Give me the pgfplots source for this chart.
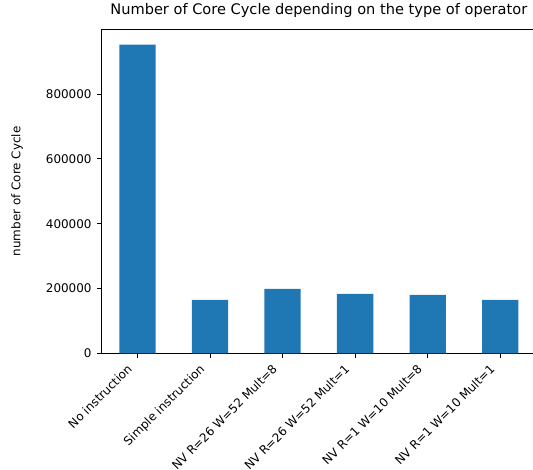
\documentclass[border=0pt]{standalone}
\usepackage{fontspec}
\setmainfont{DejaVu Sans}
\usepackage{pgfplots}
\pgfplotsset{compat=1.18}
\definecolor{mplblue}{HTML}{1F77B4}
\begin{document}
\begin{tikzpicture}
\begin{axis}[
  at={(0,0)}, anchor=south west,
  scale only axis, width=313.4pt, height=233.3pt,
  xmin=-0.5, xmax=5.5, ymin=0, ymax=999900,
  ybar, bar width=0.5,
  xtick={0,1,2,3,4,5},
  xticklabels={No instruction, Simple instruction, NV R=26 W=52 Mult=8, NV R=26 W=52 Mult=1, NV R=1 W=10 Mult=8, NV R=1 W=10 Mult=1},
  ytick={0,200000,400000,600000,800000},
  scaled y ticks=false,
  /pgf/number format/assume math mode=true,
  yticklabel={\pgfmathprintnumber[fixed,1000 sep={}]{\tick}},
  tick align=outside, tick pos=left, major tick length=3.2pt,
  tick style={black, line width=0.71pt},
  minor tick num=0,
  axis line style={black, line width=0.71pt},
  ticklabel style={font=\fontsize{8.6}{10.3}\selectfont},
  yticklabel style={inner sep=0pt, anchor=east, xshift=-3.6pt},
  xticklabel style={inner sep=0pt, text depth=0.236em, xshift=-1.5pt, yshift=-10.5pt, rotate=45, anchor=south east},
  title={Number of Core Cycle depending on the type of operator},
  title style={font=\fontsize{10.5}{12.6}\selectfont, at={(axis description cs:0.5,1)}, anchor=base, yshift=5pt, inner sep=0pt},
  ylabel={number of Core Cycle},
  ylabel style={font=\fontsize{8.6}{10.3}\selectfont, at={(axis description cs:-0.1934,0.5)}, anchor=center, rotate=0, inner sep=0pt},
]
\addplot[fill=mplblue, draw=none] coordinates {
  (0,952300) (1,164600) (2,198600) (3,183200) (4,180100) (5,164600)
};
\end{axis}
\pgfresetboundingbox
\useasboundingbox (-72.9pt,-84.0pt) rectangle (310.9pt,254.4pt);
\end{tikzpicture}
\end{document}
